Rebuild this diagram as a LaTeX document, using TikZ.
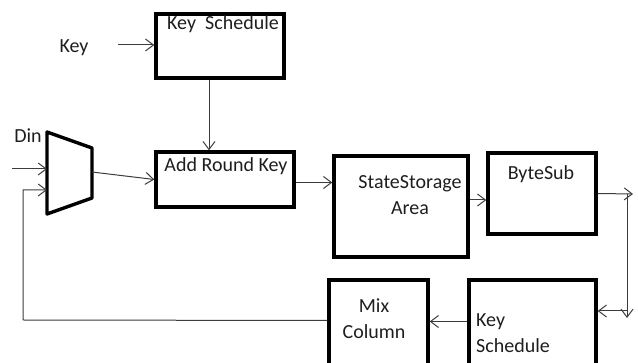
\documentclass[tikz,border=0pt]{standalone}
\usepackage{fontspec}
\setmainfont{Carlito}
\usetikzlibrary{arrows.meta, positioning, calc}
\definecolor{aesLine}{RGB}{60,60,60}
\definecolor{aesText}{RGB}{30,30,30}

\begin{document}
\begin{tikzpicture}[
    x=1pt, y=-1pt,
    font=\fontsize{20}{26}\selectfont, text=aesText,
    blk/.style={draw=black, line width=3.4pt, inner sep=0pt},
    txt/.style={inner sep=0pt, anchor=base},
    wire/.style={draw=aesLine, line width=1pt},
    arr/.style={wire, -{Straight Barb[length=8pt, width=12pt]}}
]
\clip (0,0) rectangle (638,363);

% blocks
\foreach \name/\cx/\cy/\w/\h in {ks1/220/46/128/64, ark/225/179.5/138/55,
                                 ssa/401/206.5/134/101, bs/542/193.5/108/81,
                                 mc/378.5/324/99/88, ks2/532.5/324/127/88} {
   \node[blk, minimum width=\w pt, minimum height=\h pt] (\name) at (\cx,\cy) {};
}

% mux
\draw[line width=3.4pt, line join=round] (47,132) -- (92,148) -- (92,198) -- (47,214) -- cycle;
\coordinate (muxin1) at (47,169);
\coordinate (muxin2) at (47,190);
\coordinate (muxout) at (92,172);

% texts (multi-line ones sit on their last baseline)
\node[txt] (keylbl) at (74,53) {Key};
\node[txt] (dinlbl) at (28,143) {Din};
\node[txt] (ks1t) at (223,30) {Key\ \ Schedule};
\node[txt] (arkt) at (226,172) {Add Round Key};
\node[txt, align=center] (ssat) at (410,215) {StateStorage\\Area};
\node[txt] (bst) at (541,180) {ByteSub};
\node[txt, align=center] (mct) at (374,339) {Mix\\Column};
\node[txt, align=left, anchor=base west] (ks2t) at (476,353) {Key\\Schedule};

% connectors
\coordinate (keyin) at (118,45);
\coordinate (dinin) at (12,169);
\coordinate (bsout) at (633,194);
\coordinate (rdown) at (627,318);
\coordinate (fbcorner) at (23,320);

\draw[arr] (keyin) -- (keyin -| ks1.west);
\draw[arr] ([xshift=-11pt]ks1.south) -- ([xshift=-11pt]ks1.south |- ark.north);
\draw[arr] (dinin) -- (muxin1);
\draw[arr] (muxout) -- (ark.west);
\draw[arr] ([yshift=-3pt]ark.east) -- ([yshift=-3pt]ark.east -| ssa.west);
\draw[arr] ([yshift=6.5pt]ssa.east) -- ([yshift=6.5pt]ssa.east -| bs.west);
\draw[arr] (bs.east) -- (bsout);
\draw[arr] (bsout -| rdown) -- (rdown);
\draw[arr] ([yshift=13pt]ks2.east -| rdown) -- ([yshift=13pt]ks2.east);
\draw[arr] ([yshift=2.5pt]ks2.west) -- ([yshift=2.5pt]ks2.west -| mc.east);
\draw[arr] ([yshift=3.5pt]mc.west) -- (fbcorner) -- (fbcorner |- muxin2) -- (muxin2);
\end{tikzpicture}
\end{document}
